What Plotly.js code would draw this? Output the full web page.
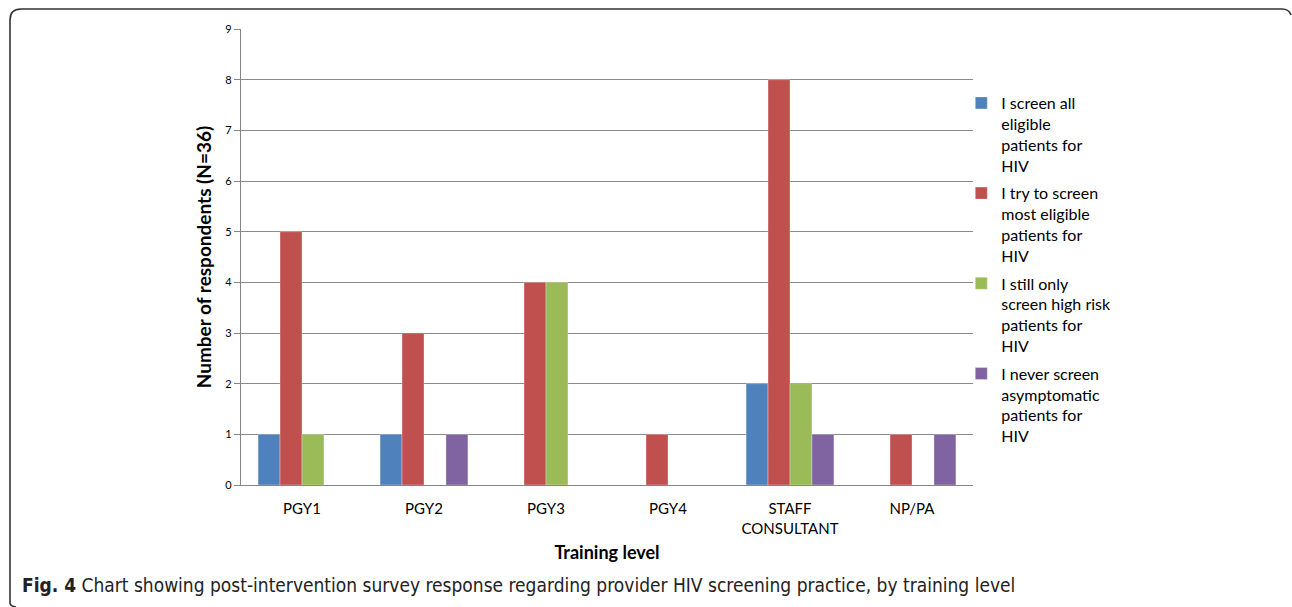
<!DOCTYPE html>
<html>
<head>
<meta charset="utf-8">
<script src="https://cdn.plot.ly/plotly-3.0.1.min.js"></script>
<style>
  html, body { margin: 0; padding: 0; background: #fff; }
  #wrap { position: relative; width: 1292px; height: 607px; }
  #chart { position: absolute; left: 0; top: 0; width: 1292px; height: 607px; }
  #frame { position: absolute; left: 0; top: 0; pointer-events: none; }
</style>
</head>
<body>
<div id="wrap">
  <div id="chart"></div>
  <svg id="frame" width="1292" height="607">
    <path d="M 10 603 Q 10 606 16 607 M 10 603 L 10 20 Q 10 9 21 9 L 1282 9 Q 1289 9 1291 15" fill="none" stroke="#333" stroke-width="1.6"/>
  </svg>
</div>
<script>
const categories = ["PGY1", "PGY2", "PGY3", "PGY4", "STAFF<br>CONSULTANT", "NP/PA"];
const seriesNames = [
  "I screen all<br>eligible<br>patients for<br>HIV",
  "I try to screen<br>most eligible<br>patients for<br>HIV",
  "I still only<br>screen high risk<br>patients for<br>HIV",
  "I never screen<br>asymptomatic<br>patients for<br>HIV"
];
const screenAll      = [1, 1, 0, 0, 2, 0];
const screenMost     = [5, 3, 4, 1, 8, 1];
const screenHighRisk = [1, 0, 4, 0, 2, 0];
const neverScreen    = [0, 1, 0, 0, 1, 1];
const seriesColors = ["#4F81BD", "#C0504D", "#9BBB59", "#8064A2"];
const yTicks = [0, 1, 2, 3, 4, 5, 6, 7, 8, 9];

const allSeries = [screenAll, screenMost, screenHighRisk, neverScreen];
const font = "Lato, 'Open Sans', 'Noto Sans', sans-serif";

const traces = allSeries.map((vals, i) => ({
  type: "bar",
  name: seriesNames[i],
  x: categories,
  y: vals,
  legendgroup: "g" + i,
  marker: { color: seriesColors[i], line: { width: 0.6, color: "rgba(255,255,255,0.5)" } },
  hoverinfo: "x+y"
}));

const layout = {
  width: 1292,
  height: 607,
  margin: { l: 241, r: 319, t: 29, b: 122 },
  paper_bgcolor: "rgba(0,0,0,0)",
  plot_bgcolor: "#fff",
  barmode: "group",
  bargap: 0.28,
  bargroupgap: 0,
  font: { family: font, color: "#000" },
  xaxis: {
    type: "category",
    tickfont: { size: 15, family: font, color: "#000" },
    showline: true,
    linecolor: "#868686",
    linewidth: 1.2,
    ticks: "",
    ticklabelstandoff: 10,
    showgrid: false,
    title: { text: "<b>Training level</b>", font: { size: 18, family: font }, standoff: 10 }
  },
  yaxis: {
    range: [0, 9],
    tickvals: yTicks,
    ticktext: yTicks.map(String),
    tickfont: { size: 11, family: font, color: "#000" },
    showline: true,
    linecolor: "#868686",
    linewidth: 1.2,
    ticks: "outside",
    ticklen: 6,
    tickcolor: "#868686",
    showgrid: true,
    gridcolor: "#8a8a8a",
    gridwidth: 1,
    zeroline: false,
    title: { text: "<b>Number of respondents (N=36)</b>", font: { size: 19, family: font }, standoff: 8 }
  },
  showlegend: true,
  legend: {
    x: 0.984,
    y: 0.875,
    xanchor: "left",
    yanchor: "top",
    font: { size: 16, family: font, color: "#000" },
    valign: "top",
    tracegroupgap: 4,
    itemwidth: 30,
    bgcolor: "rgba(0,0,0,0)"
  },
  annotations: [{
    xref: "paper", yref: "paper",
    x: -0.302, y: -0.19,
    xanchor: "left", yanchor: "top",
    showarrow: false,
    align: "left",
    text: "<b>Fig. 4</b> Chart showing post-intervention survey response regarding provider HIV screening practice, by training level",
    font: { size: 19, family: "'Liberation Sans Narrow', 'DejaVu Sans Condensed', 'Open Sans', sans-serif", color: "#222" }
  }]
};

Plotly.newPlot("chart", traces, layout, { displayModeBar: false, staticPlot: true });
</script>
</body>
</html>
